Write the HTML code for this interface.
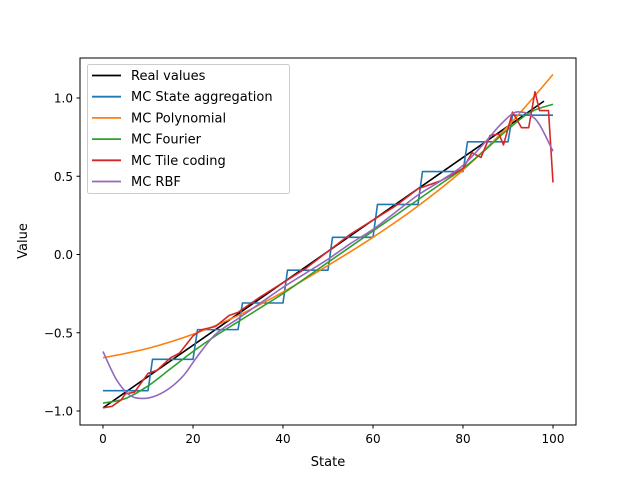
<!DOCTYPE html>
<html><head><meta charset="utf-8"><style>
html,body{margin:0;padding:0;background:#fff;}
svg text{font-family:"DejaVu Sans","Liberation Sans",sans-serif;}
</style></head><body>
<svg id="chart" width="640" height="478" xmlns="http://www.w3.org/2000/svg">
<rect width="640" height="478" fill="#fff"/>
<g id="plot"></g>
<rect x="80" y="58" width="496" height="367" fill="none" stroke="#000" stroke-width="1"/>
<g id="ticks"></g>
<text x="328" y="466" font-size="13" text-anchor="middle">State</text>
<text x="27" y="241" font-size="13" text-anchor="middle" transform="rotate(-90 27 241)">Value</text>
<g id="legend"></g>
</svg>
<script>
const xTicks=[0,20,40,60,80,100];
const yTicks=[-1.0,-0.5,0.0,0.5,1.0];
const seriesNames=["Real values","MC State aggregation","MC Polynomial","MC Fourier","MC Tile coding","MC RBF"];
const realStates=[0,98];
const realValues=[-0.98,0.98];
const aggValues=[-0.87,-0.67,-0.48,-0.31,-0.10,0.11,0.32,0.53,0.72,0.89];
const polyStates=[0,10,20,30,40,50,60,70,80,90,100];
const polyValues=[-0.66,-0.6,-0.51,-0.39,-0.24,-0.07,0.11,0.31,0.54,0.82,1.15];
const fourierStates=[0,5,10,15,20,25,30,35,40,45,50,55,60,65,70,75,80,85,90,95,100];
const fourierValues=[-0.95,-0.92,-0.84,-0.73,-0.62,-0.52,-0.43,-0.34,-0.25,-0.15,-0.05,0.05,0.15,0.25,0.35,0.45,0.55,0.67,0.80,0.91,0.96];
const tileStates=[0,2,4,5,7,8,10,12,15,17,20,22,25,28,30,35,40,45,50,55,60,65,70,75,80,82,84,86,88,89,91,93,94.6,96,97,99,100];
const tileValues=[-0.98,-0.97,-0.93,-0.89,-0.88,-0.84,-0.76,-0.74,-0.66,-0.63,-0.52,-0.48,-0.46,-0.39,-0.37,-0.27,-0.18,-0.09,0.02,0.13,0.22,0.31,0.42,0.47,0.55,0.65,0.62,0.76,0.77,0.70,0.91,0.81,0.81,1.04,0.92,0.92,0.46];
const rbfStates=[0,3,6,9,12,15,18,21,25,30,35,40,45,50,55,60,65,70,75,80,85,88,91,93,95,97,100];
const rbfValues=[-0.62,-0.80,-0.90,-0.92,-0.90,-0.85,-0.77,-0.65,-0.51,-0.41,-0.31,-0.21,-0.12,-0.03,0.07,0.16,0.27,0.38,0.47,0.57,0.72,0.82,0.90,0.91,0.89,0.83,0.66];
const colors=["#000000","#1f77b4","#ff7f0e","#2ca02c","#d62728","#9467bd"];

const NS="http://www.w3.org/2000/svg";
function X(s){return 103+4.5*s;}
function Y(v){return 254.5-156.5*v;}
const plot=document.getElementById('plot');
function addPath(d,color,name){
  const p=document.createElementNS(NS,'path');
  p.setAttribute('d',d);
  p.setAttribute('fill','none');p.setAttribute('stroke',color);p.setAttribute('stroke-width','1.6');
  p.setAttribute('stroke-linejoin','round');
  
  
  plot.appendChild(p);
}
function line(xs,ys,color,name){
  const d=xs.map((s,i)=>(i?'L':'M')+X(s).toFixed(2)+','+Y(ys[i]).toFixed(2)).join(' ');
  addPath(d,color,name);
}
function smooth(xs,ys,color,name){
  const P=xs.map((s,i)=>[X(s),Y(ys[i])]);
  let d='M'+P[0][0].toFixed(2)+','+P[0][1].toFixed(2);
  for(let i=0;i<P.length-1;i++){
    const p0=P[Math.max(0,i-1)],p1=P[i],p2=P[i+1],p3=P[Math.min(P.length-1,i+2)];
    const c1=[p1[0]+(p2[0]-p0[0])/6,p1[1]+(p2[1]-p0[1])/6];
    const c2=[p2[0]-(p3[0]-p1[0])/6,p2[1]-(p3[1]-p1[1])/6];
    d+=' C'+c1.map(v=>v.toFixed(2)).join(',')+' '+c2.map(v=>v.toFixed(2)).join(',')+' '+p2.map(v=>v.toFixed(2)).join(',');
  }
  addPath(d,color,name);
}
line(realStates,realValues,colors[0],'real-values-line');
const aggS=[],aggV=[];
for(let s=0;s<=100;s++){let g=s===0?0:Math.min(9,Math.floor((s-1)/10));aggS.push(s);aggV.push(aggValues[g]);}
line(aggS,aggV,colors[1],'state-aggregation-line');
smooth(polyStates,polyValues,colors[2],'polynomial-line');
smooth(fourierStates,fourierValues,colors[3],'fourier-line');
line(tileStates,tileValues,colors[4],'tile-coding-line');
smooth(rbfStates,rbfValues,colors[5],'rbf-line');

const tg=document.getElementById('ticks');
xTicks.forEach(t=>{
  const l=document.createElementNS(NS,'line');
  l.setAttribute('x1',X(t));l.setAttribute('x2',X(t));l.setAttribute('y1',425);l.setAttribute('y2',428.5);l.setAttribute('stroke','#000');
  
  
  tg.appendChild(l);
  const tx=document.createElementNS(NS,'text');
  tx.setAttribute('x',X(t));tx.setAttribute('y',443);tx.setAttribute('font-size','12');tx.setAttribute('text-anchor','middle');
  tx.textContent=t;
  
  
  tg.appendChild(tx);
});
yTicks.forEach(t=>{
  const l=document.createElementNS(NS,'line');
  l.setAttribute('x1',76.5);l.setAttribute('x2',80);l.setAttribute('y1',Y(t));l.setAttribute('y2',Y(t));l.setAttribute('stroke','#000');
  
  
  tg.appendChild(l);
  const tx=document.createElementNS(NS,'text');
  tx.setAttribute('x',73);tx.setAttribute('y',Y(t)+4.5);tx.setAttribute('font-size','12');tx.setAttribute('text-anchor','end');
  tx.textContent=(t<0?'\u2212':'')+Math.abs(t).toFixed(1);
  
  
  tg.appendChild(tx);
});

const lg=document.getElementById('legend');
const box=document.createElementNS(NS,'rect');
box.setAttribute('x',87.5);box.setAttribute('y',64.5);box.setAttribute('width',202);box.setAttribute('height',129);box.setAttribute('rx',2);
box.setAttribute('fill','#fff');box.setAttribute('fill-opacity','0.8');box.setAttribute('stroke','#ccc');


lg.appendChild(box);
seriesNames.forEach((n,i)=>{
  const y=75.5+i*21.2;
  const l=document.createElementNS(NS,'line');
  l.setAttribute('x1',92);l.setAttribute('x2',121);l.setAttribute('y1',y);l.setAttribute('y2',y);
  l.setAttribute('stroke',colors[i]);l.setAttribute('stroke-width','1.8');
  
  
  lg.appendChild(l);
  const t=document.createElementNS(NS,'text');
  t.setAttribute('x',131);t.setAttribute('y',y+4.5);t.setAttribute('font-size','13');
  t.textContent=n;
  
  
  lg.appendChild(t);
});
</script>
</body></html>
